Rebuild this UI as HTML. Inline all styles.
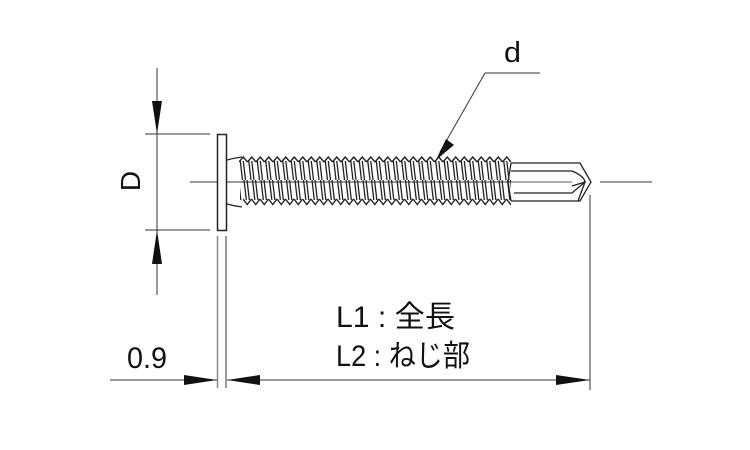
<!DOCTYPE html>
<html><head><meta charset="utf-8"><style>
html,body{margin:0;padding:0;background:#fff;width:750px;height:450px;overflow:hidden}
svg{display:block}
text{font-family:"Liberation Sans","Noto Sans CJK JP",sans-serif;fill:#111}
</style></head><body>
<svg width="750" height="450" viewBox="0 0 750 450" xmlns="http://www.w3.org/2000/svg">
<defs>
<pattern id="th" x="243" y="0" width="8.5" height="60" patternUnits="userSpaceOnUse">
  <path d="M1,0 L8,60 M4,0 L11,60 M-7.5,0 L-0.5,60 M-4.5,0 L2.5,60" stroke="#222" stroke-width="1.3" fill="none"/>
</pattern>
<pattern id="zt" x="239" y="156" width="8.5" height="7" patternUnits="userSpaceOnUse">
  <path d="M0,6 L4.25,1 L8.5,6" stroke="#222" stroke-width="1.4" fill="none"/>
</pattern>
<pattern id="zb" x="243" y="198" width="8.5" height="8" patternUnits="userSpaceOnUse">
  <path d="M0,1 L4.25,6.5 L8.5,1" stroke="#222" stroke-width="1.4" fill="none"/>
</pattern>
</defs>
<g stroke="#333" fill="none" stroke-width="1">
  <line x1="190" y1="182" x2="510" y2="182"/>
  <line x1="600" y1="182" x2="652" y2="182"/>
  <line x1="157" y1="68" x2="157" y2="295"/>
  <line x1="145" y1="134" x2="210" y2="134"/>
  <line x1="145" y1="230" x2="210" y2="230"/>
  <line x1="217.5" y1="236" x2="217.5" y2="388" stroke="#888" stroke-width="1.5"/>
  <line x1="226" y1="236" x2="226" y2="388"/>
  <line x1="590" y1="195" x2="590" y2="390"/>
  <line x1="110" y1="380" x2="217" y2="380"/>
  <line x1="227" y1="380" x2="590" y2="380"/>
  <polyline points="540,73 485,73 440,152"/>
</g>
<g fill="#111">
  <polygon points="157,134 152,101 162,101"/>
  <polygon points="157,230 152,264 162,264"/>
  <polygon points="217,380 184,375 184,385"/>
  <polygon points="227,380 260,375 260,385"/>
  <polygon points="590,380 556,375 556,385"/>
  <polygon points="436,160 446,139 454,145"/>
</g>
<rect x="217.5" y="134.5" width="9" height="96" fill="#fff" stroke="#222" stroke-width="1.5"/>
<path d="M227,160 Q234,158 242,157 M227,204 Q234,206 242,207" stroke="#222" fill="none" stroke-width="1.2"/>
<rect x="240" y="161" width="271" height="39" fill="url(#th)"/>
<rect x="239" y="156" width="272" height="7" fill="url(#zt)"/>
<rect x="243" y="198" width="268" height="8" fill="url(#zb)"/>
<line x1="240" y1="182" x2="510" y2="182" stroke="#333" stroke-width="0.8"/>
<g stroke="#222" fill="none" stroke-width="1.3">
  <path d="M511,163 L580,163 L591,182 L580,201 L511,201"/>
  <path d="M511,171 L572,171 Q584,176 585,182"/>
  <path d="M514,193 L572,193 L585,182"/>
  <path d="M572,186 L585,182 L578,201"/>
  <path d="M511,163 L508,182 L511,201"/>
  <line x1="511" y1="182" x2="572" y2="182" stroke-width="0.8"/>
</g>
<text x="504" y="62" font-size="29" textLength="17" lengthAdjust="spacingAndGlyphs">d</text>
<text transform="translate(140,181) rotate(-90)" font-size="28" text-anchor="middle">D</text>
<text x="127" y="368" font-size="30" textLength="40" lengthAdjust="spacingAndGlyphs">0.9</text>
<text x="336" y="327" font-size="30" textLength="119" lengthAdjust="spacingAndGlyphs">L1 : 全長</text>
<text x="336" y="366" font-size="30" textLength="134" lengthAdjust="spacingAndGlyphs">L2 : ねじ部</text>
</svg>
</body></html>
